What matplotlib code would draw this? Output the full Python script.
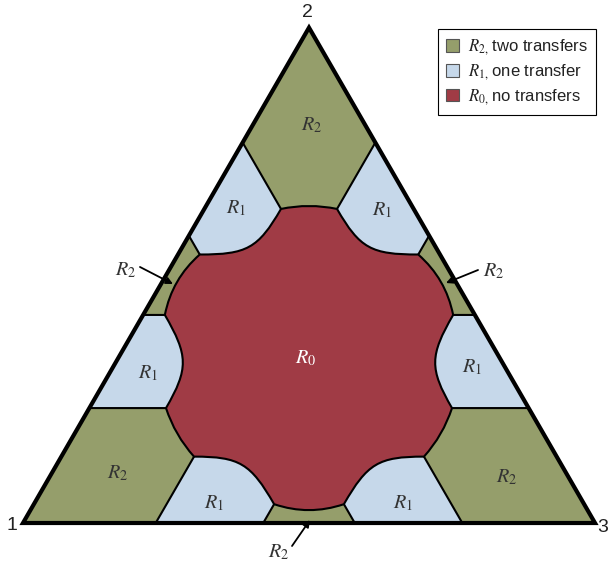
import numpy as np
import matplotlib
matplotlib.use('Agg')
import matplotlib.pyplot as plt
from matplotlib.patches import Polygon, Patch, PathPatch
from matplotlib.path import Path

plt.rcParams['font.family'] = ['Liberation Sans', 'DejaVu Sans']
plt.rcParams['mathtext.fontset'] = 'stix'

# ---------------- data (barycentric coordinates (a1, a2), a3 = 1 - a1 - a2) ----------------
corner_limit = 0.232   # two coordinates below this -> corner R2 region
edge_limit = 0.42      # two coordinates above this -> edge R2 region

# R0 boundary, one sixth of the diagram (around vertex 2 / edge 1-2)
q_corner = (corner_limit, 0.634)   # junction R0 / R1 / corner R2
corner_ctrl = (0.177, 0.646)       # control of the R0 arc facing vertex 2
r1_ctrl1 = (0.312, 0.554)          # controls of the R0 curve facing R1
r1_ctrl2 = (0.338, 0.542)
q_edge = (edge_limit, 0.542)       # junction R0 / R1 / edge R2
edge_ctrl = (0.493, 0.493)         # control of the R0 arc facing edge 1-2

region_names = ['$R_{2,}\\,$two transfers', '$R_{1,}\\,$one transfer', '$R_{0,}\\,$no transfers']
region_colors = ['#959e6b', '#c6d8ea', '#a03b45']
vertex_labels = ['1', '2', '3']

# ---------------- helpers ----------------
S3 = np.sqrt(3) / 2


def full(p):
    return (p[0], p[1], 1 - p[0] - p[1])


def to_xy(pts):
    pts = np.asarray(pts, dtype=float)
    return np.column_stack([pts[:, 2] + pts[:, 1] / 2, pts[:, 1] * S3])


def rot(pts, k):
    out = [tuple(p) for p in pts]
    for _ in range(k):
        out = [(p[1], p[2], p[0]) for p in out]
    return out


def swap12(p):
    return (p[1], p[0], p[2])


def mirror13(p):
    return (p[2], p[1], p[0])


Qa, Ca, C1, C2, Qb, Ce = [full(p) for p in (q_corner, corner_ctrl, r1_ctrl1, r1_ctrl2, q_edge, edge_ctrl)]
# one third of the R0 boundary: from the junction right of vertex 2 to the junction above vertex 1
third_pts = [mirror13(Qa), Ca, Qa, C1, C2, Qb, Ce, swap12(Qb),
             swap12(C2), swap12(C1), swap12(Qa)]
third_codes = [Path.CURVE3, Path.CURVE3, Path.CURVE4, Path.CURVE4, Path.CURVE4,
               Path.CURVE3, Path.CURVE3, Path.CURVE4, Path.CURVE4, Path.CURVE4]
verts = [mirror13(Qa)]
codes = [Path.MOVETO]
for k in range(3):
    verts += rot(third_pts[1:], k)
    codes += third_codes
verts.append(mirror13(Qa))
codes.append(Path.CLOSEPOLY)
r0_path = Path(to_xy(verts), codes)

c = corner_limit
e = edge_limit
corner_poly = [(0, 1, 0), (c, 1 - c, 0), (c, 1 - 2 * c, c), (0, 1 - c, c)]
edge_poly = [(e, 1 - e, 0), (1 - e, e, 0), (e, e, 1 - 2 * e)]
triangle = [(1, 0, 0), (0, 1, 0), (0, 0, 1)]

# ---------------- figure ----------------
fig = plt.figure(figsize=(6.08, 5.66), dpi=100)
ax = fig.add_axes([0, 0, 1, 1])
ax.set_xlim(-23 / 572, 585 / 572)
ax.set_ylim(-43 / 572, 523 / 572)
ax.axis('off')

green, blue, red = region_colors

ax.add_patch(Polygon(to_xy(triangle), closed=True, facecolor=blue, edgecolor='none', zorder=1))
for k in range(3):
    ax.add_patch(Polygon(to_xy(rot(corner_poly, k)), closed=True, facecolor=green,
                         edgecolor='black', lw=1.5, zorder=2))
    ax.add_patch(Polygon(to_xy(rot(edge_poly, k)), closed=True, facecolor=green,
                         edgecolor='black', lw=1.5, zorder=2))
ax.add_patch(PathPatch(r0_path, facecolor=red, edgecolor='black', lw=1.5, zorder=3))
ax.add_patch(Polygon(to_xy(triangle), closed=True, facecolor='none', edgecolor='black',
                     lw=3, joinstyle='miter', zorder=4))

# vertex labels
vcol = '#222222'
ax.text(-0.0201, -0.0052, vertex_labels[0], fontsize=14, ha='center', va='center', color=vcol)
ax.text(0.498, 0.892, vertex_labels[1], fontsize=14, ha='center', va='center', color=vcol)
ax.text(1.0131, -0.0087, vertex_labels[2], fontsize=14, ha='center', va='center', color=vcol)

# region labels
lab_col = '#333333'
fs = 14.5
region_labels = [
    ('$R_2$', 0.505, 0.696), ('$R_1$', 0.372, 0.551), ('$R_1$', 0.628, 0.547),
    ('$R_1$', 0.219, 0.262), ('$R_1$', 0.785, 0.273),
    ('$R_2$', 0.166, 0.087), ('$R_2$', 0.846, 0.080),
    ('$R_1$', 0.334, 0.035), ('$R_1$', 0.664, 0.035),
    ('$R_2$', 0.180, 0.442), ('$R_2$', 0.8234, 0.4406), ('$R_2$', 0.4476, -0.0507),
]
for t, x, y in region_labels:
    ax.text(x, y, t, fontsize=fs, ha='center', va='center', color=lab_col, zorder=5)
ax.text(0.495, 0.288, '$R_0$', fontsize=fs, ha='center', va='center', color='white', zorder=5)

arrow = dict(arrowstyle='-|>', color='black', lw=1.3, mutation_scale=10, shrinkA=0, shrinkB=0)
for tail, head in [((0.2045, 0.4476), (0.2622, 0.4178)),
                   ((0.7955, 0.4423), (0.7395, 0.4196)),
                   ((0.4703, -0.0402), (0.5017, 0.0052))]:
    ax.annotate('', xy=head, xytext=tail, arrowprops=arrow, zorder=6)

# legend
handles = [Patch(facecolor=col, edgecolor='#555555', lw=0.8) for col in region_colors]
leg = ax.legend(handles, region_names, loc='upper right',
                bbox_to_anchor=(596 / 608, 1 - 29 / 566), bbox_transform=fig.transFigure,
                fontsize=12, frameon=True, fancybox=False, edgecolor='black', framealpha=1,
                borderaxespad=0, handlelength=0.8, handleheight=0.8, handletextpad=0.5,
                labelspacing=0.3, borderpad=0.5)
leg.get_frame().set_linewidth(0.8)
for t in leg.get_texts():
    t.set_color('#222222')

fig.savefig('out.png', dpi=100)
